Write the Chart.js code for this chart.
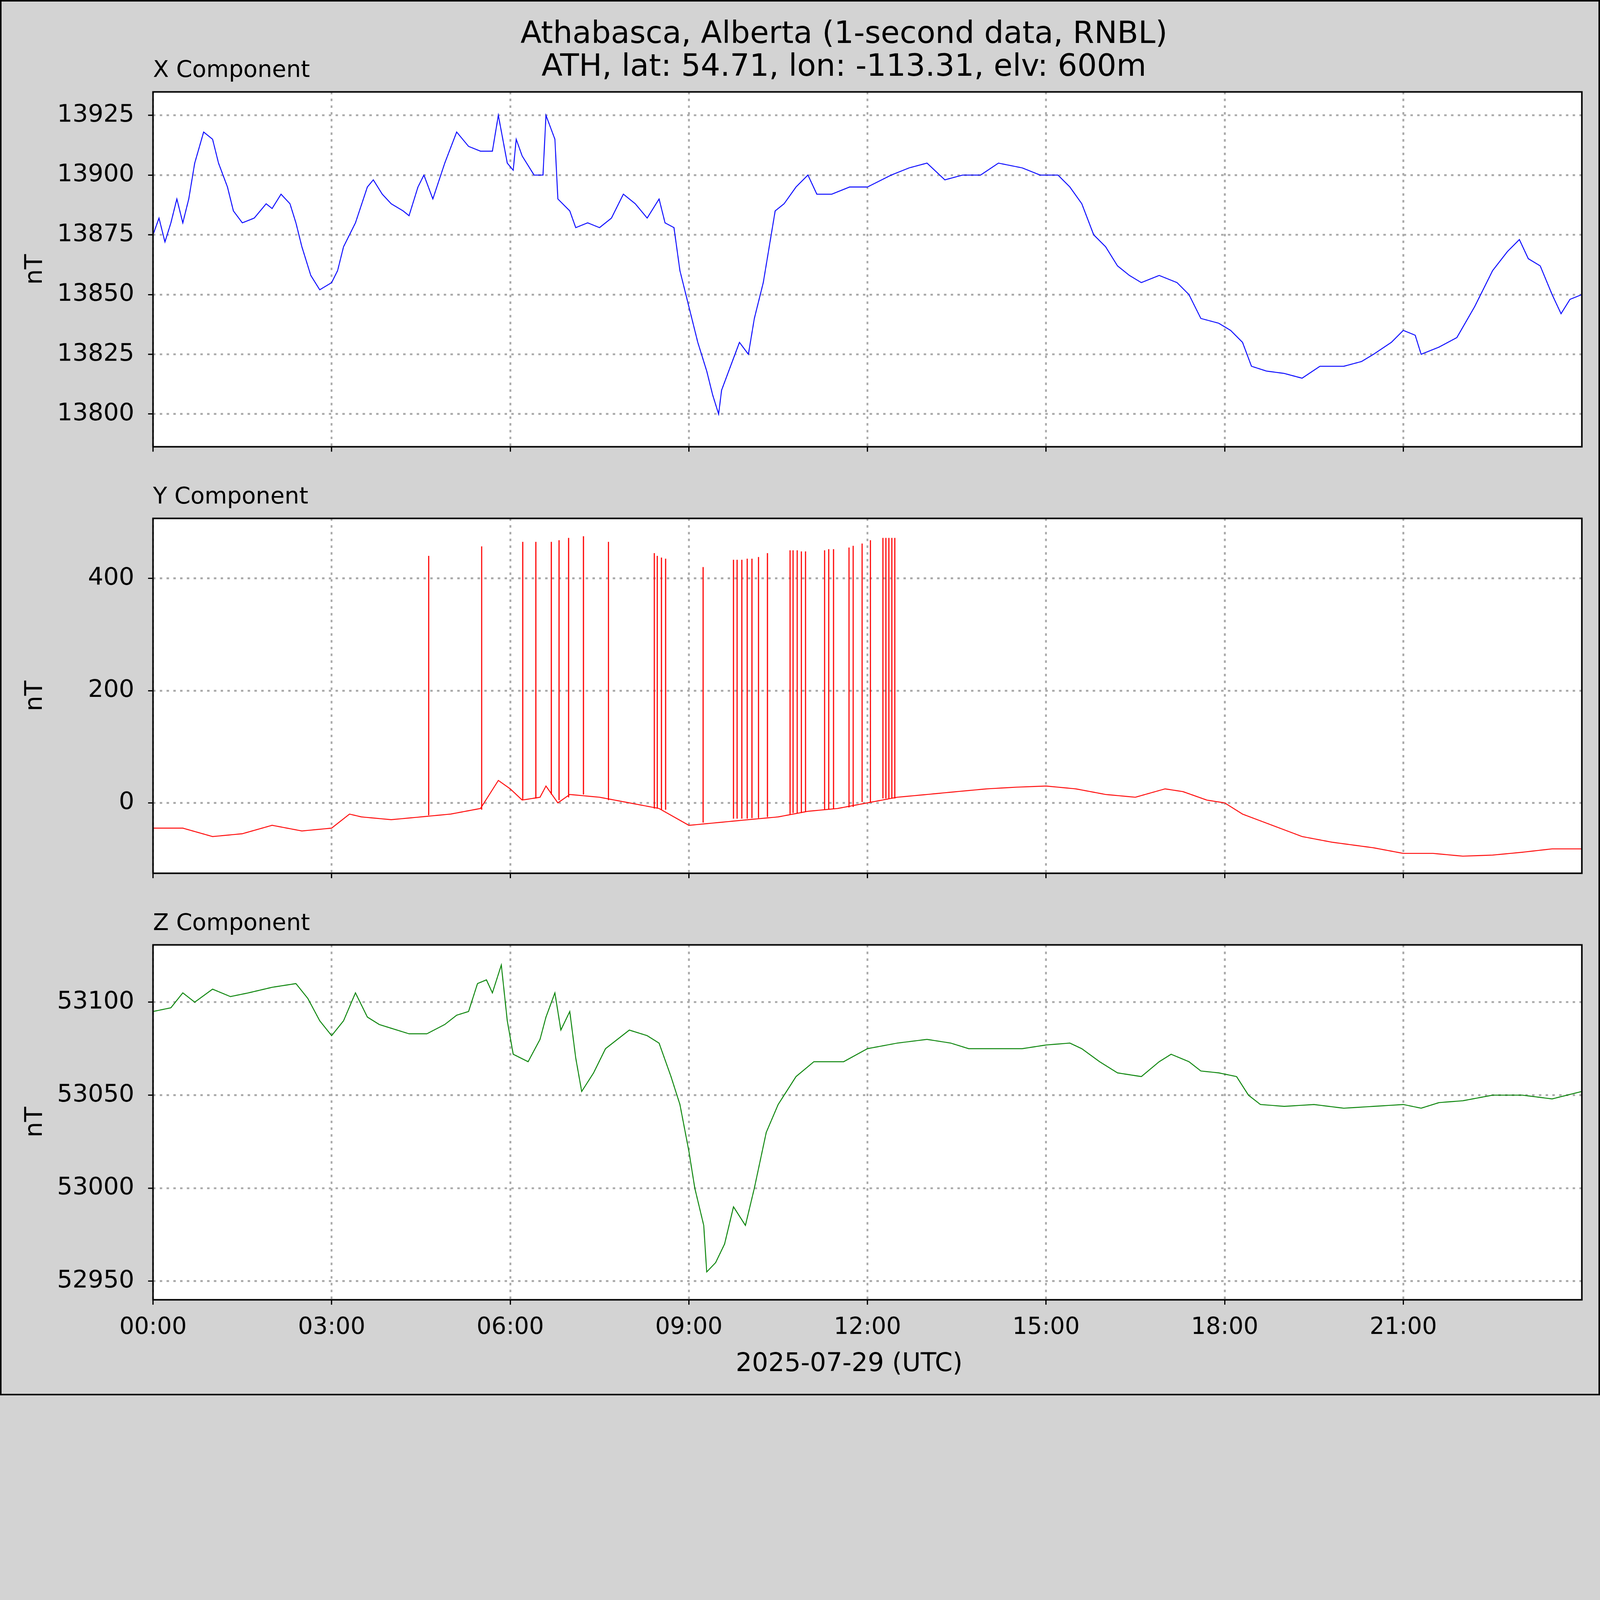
<!DOCTYPE html>
<html>
<head>
<meta charset="utf-8">
<script src="https://cdn.jsdelivr.net/npm/chart.js@4/dist/chart.umd.min.js"></script>
<style>
  html, body { margin: 0; padding: 0; overflow: hidden; background: #d3d3d3; }
  #page { width: 5207px; height: 4541px; background: #d3d3d3; position: absolute; left: 0; top: 0;
          transform-origin: 0 0; font-family: "DejaVu Sans", sans-serif; color: #000; }
  #frame { position: absolute; left: 0; top: 0; width: 5197px; height: 4531px; border: 5px solid #000; }
  canvas { position: absolute; left: 0; }
  .txt { position: absolute; white-space: nowrap; line-height: 1.16; }
  .title { left: 143px; width: 5207px; text-align: center; font-size: 100px; }
  .sub { left: 498px; font-size: 75px; }
  .ylab { left: 110px; font-size: 80px; transform: translate(-50%, -50%) rotate(-90deg); }
</style>
</head>
<body>
<div id="page">
<div id="frame"></div>
<div class="txt title" style="top:48px">Athabasca, Alberta (1-second data, RNBL)</div>
<div class="txt title" style="top:155px">ATH, lat: 54.71, lon: -113.31, elv: 600m</div>
<div class="txt sub" style="top:182px">X Component</div>
<div class="txt sub" style="top:1570px">Y Component</div>
<div class="txt sub" style="top:2958px">Z Component</div>
<div class="txt ylab" style="top:877px">nT</div>
<div class="txt ylab" style="top:2265px">nT</div>
<div class="txt ylab" style="top:3652px">nT</div>
<div class="txt" style="left:160px;width:5207px;top:4386px;text-align:center;font-size:83px">2025-07-29 (UTC)</div>
<canvas id="cx"></canvas>
<canvas id="cy"></canvas>
<canvas id="cz"></canvas>
</div>
<script>
// hours since 00:00 UTC
const xTimes = [0,0.1,0.2,0.3,0.4,0.5,0.6,0.7,0.85,1.0,1.1,1.25,1.35,1.5,1.7,1.9,2.0,2.15,2.3,2.4,2.5,2.65,2.8,3.0,3.1,3.2,3.4,3.6,3.7,3.85,4.0,4.2,4.3,4.45,4.55,4.7,4.9,5.1,5.3,5.5,5.7,5.8,5.95,6.05,6.1,6.2,6.4,6.55,6.6,6.75,6.8,7.0,7.1,7.3,7.5,7.7,7.9,8.1,8.3,8.5,8.6,8.75,8.85,8.95,9.05,9.15,9.3,9.4,9.5,9.55,9.7,9.85,10.0,10.1,10.25,10.35,10.45,10.6,10.8,11.0,11.15,11.4,11.7,12.0,12.4,12.7,13.0,13.3,13.6,13.9,14.2,14.6,14.9,15.2,15.4,15.6,15.8,16.0,16.2,16.4,16.6,16.9,17.2,17.4,17.6,17.9,18.1,18.3,18.45,18.7,19.0,19.3,19.6,20.0,20.3,20.5,20.8,21.0,21.2,21.3,21.6,21.9,22.2,22.5,22.75,22.95,23.1,23.3,23.5,23.65,23.8,24.0];
const xValues = [13875,13882,13872,13880,13890,13880,13890,13905,13918,13915,13905,13895,13885,13880,13882,13888,13886,13892,13888,13880,13870,13858,13852,13855,13860,13870,13880,13895,13898,13892,13888,13885,13883,13895,13900,13890,13905,13918,13912,13910,13910,13925,13905,13902,13915,13908,13900,13900,13925,13915,13890,13885,13878,13880,13878,13882,13892,13888,13882,13890,13880,13878,13860,13850,13840,13830,13818,13808,13800,13810,13820,13830,13825,13840,13855,13870,13885,13888,13895,13900,13892,13892,13895,13895,13900,13903,13905,13898,13900,13900,13905,13903,13900,13900,13895,13888,13875,13870,13862,13858,13855,13858,13855,13850,13840,13838,13835,13830,13820,13818,13817,13815,13820,13820,13822,13825,13830,13835,13833,13825,13828,13832,13845,13860,13868,13873,13865,13862,13850,13842,13848,13850];

const yTimes = [0,0.5,1.0,1.5,2.0,2.5,3.0,3.3,3.5,4.0,4.5,5.0,5.5,5.8,6.0,6.2,6.5,6.6,6.8,7.0,7.5,8.0,8.5,9.0,9.5,10.0,10.5,11.0,11.5,12.0,12.5,13.0,13.5,14.0,14.5,15.0,15.5,16.0,16.5,17.0,17.3,17.7,18.0,18.3,18.8,19.3,19.8,20.5,21.0,21.5,22.0,22.5,23.0,23.5,24.0];
const yValues = [-45,-45,-60,-55,-40,-50,-45,-20,-25,-30,-25,-20,-10,40,25,5,10,30,0,15,10,0,-10,-40,-35,-30,-25,-15,-10,0,10,15,20,25,28,30,25,15,10,25,20,5,0,-20,-40,-60,-70,-80,-90,-90,-95,-93,-88,-82,-82];
// spikes in Y (data glitches)
const spikeTimes = [4.63,5.52,6.21,6.43,6.69,6.82,6.98,7.23,7.65,8.42,8.47,8.54,8.61,9.24,9.75,9.81,9.89,9.98,10.06,10.17,10.32,10.70,10.75,10.82,10.89,10.96,11.28,11.35,11.43,11.69,11.76,11.91,12.05,12.26,12.31,12.36,12.41,12.46];
const spikePeaks = [440,457,465,465,465,468,472,475,465,445,440,437,435,420,433,433,433,435,435,438,445,450,450,450,448,448,450,452,452,455,458,462,468,472,472,472,472,472];
const spikeBase = [-22,-12,5,8,15,5,10,15,5,-10,-10,-12,-12,-35,-28,-28,-28,-28,-27,-27,-25,-20,-18,-18,-18,-16,-12,-12,-10,-8,-7,0,0,8,8,8,8,8];

const zTimes = [0,0.3,0.5,0.7,1.0,1.3,1.6,2.0,2.4,2.6,2.8,3.0,3.2,3.4,3.6,3.8,4.0,4.3,4.6,4.9,5.1,5.3,5.45,5.6,5.7,5.85,5.95,6.05,6.3,6.5,6.6,6.75,6.85,7.0,7.1,7.2,7.4,7.6,7.8,8.0,8.3,8.5,8.7,8.85,9.0,9.1,9.25,9.3,9.45,9.6,9.75,9.95,10.1,10.3,10.5,10.8,11.1,11.6,12.0,12.5,13.0,13.4,13.7,14.2,14.6,15.0,15.4,15.6,15.9,16.2,16.6,16.9,17.1,17.4,17.6,17.9,18.2,18.4,18.6,19.0,19.5,20.0,20.5,21.0,21.3,21.6,22.0,22.5,23.0,23.5,24.0];
const zValues = [53095,53097,53105,53100,53107,53103,53105,53108,53110,53102,53090,53082,53090,53105,53092,53088,53086,53083,53083,53088,53093,53095,53110,53112,53105,53120,53090,53072,53068,53080,53092,53105,53085,53095,53070,53052,53062,53075,53080,53085,53082,53078,53060,53045,53020,53000,52980,52955,52960,52970,52990,52980,53000,53030,53045,53060,53068,53068,53075,53078,53080,53078,53075,53075,53075,53077,53078,53075,53068,53062,53060,53068,53072,53068,53063,53062,53060,53050,53045,53044,53045,53043,53044,53045,53043,53046,53047,53050,53050,53048,53052];

const hourTicks = [0,3,6,9,12,15,18,21];
const xTickVals = [13800,13825,13850,13875,13900,13925];
const yTickVals = [0,200,400];
const zTickVals = [52950,53000,53050,53100];

const page = document.getElementById('page');
const sc = Math.min(window.innerWidth / 5207, window.innerHeight / 4541);
page.style.transform = 'scale(' + sc + ')';

const pts = (t, v) => t.map((h, i) => ({x: h, y: v[i]}));

const frame = {
  id: 'frame',
  beforeDraw(c) {
    const a = c.chartArea, g = c.ctx;
    g.save(); g.fillStyle = '#fff'; g.fillRect(a.left, a.top, a.right - a.left, a.bottom - a.top); g.restore();
  },
  afterDraw(c) {
    const a = c.chartArea, g = c.ctx;
    g.save(); g.strokeStyle = '#000'; g.lineWidth = 5;
    g.strokeRect(a.left, a.top, a.right - a.left, a.bottom - a.top); g.restore();
  }
};

function noPad(s) {
  s.paddingTop = 0; s.paddingBottom = 0; s.paddingLeft = 0; s.paddingRight = 0;
}

function makePanel(id, top, datasets, ymin, ymax, yticks, showX) {
  const cv = document.getElementById(id);
  const H = 1155 + 20 + 200;
  cv.style.width = '5207px'; cv.style.height = H + 'px';
  cv.width = 5207; cv.height = H;
  cv.style.top = (top - 20) + 'px';
  const grid = {
    color: '#aaaaaa', lineWidth: 6, offset: false,
    drawTicks: true, tickLength: 16, tickColor: '#000', tickWidth: 4, tickBorderDash: []
  };
  const border = { display: false, dash: [8, 14] };
  new Chart(cv, {
    data: { datasets: datasets },
    plugins: [frame],
    options: {
      responsive: false, animation: false, devicePixelRatio: 1,
      layout: { padding: { top: 20, right: 59, left: 0, bottom: 0 } },
      plugins: { legend: { display: false }, tooltip: { enabled: false } },
      elements: { point: { radius: 0 } },
      scales: {
        x: {
          type: 'linear', min: 0, max: 24, offset: false,
          afterFit: s => { s.height = 200; noPad(s); },
          afterBuildTicks: s => { s.ticks = hourTicks.map(v => ({value: v})); },
          grid: grid, border: border,
          ticks: {
            display: showX, color: '#000', padding: 30, maxRotation: 0,
            font: { family: 'DejaVu Sans', size: 76 },
            callback: v => String(v).padStart(2, '0') + ':00'
          }
        },
        y: {
          type: 'linear', min: ymin, max: ymax,
          afterFit: s => { s.width = 498; noPad(s); },
          afterBuildTicks: s => { s.ticks = yticks.map(v => ({value: v})); },
          grid: grid, border: border,
          ticks: { color: '#000', padding: 45, font: { family: 'DejaVu Sans', size: 79 },
                   callback: v => String(v) }
        }
      }
    }
  });
}

makePanel('cx', 299, [
  { type: 'line', data: pts(xTimes, xValues), borderColor: '#0000ff', borderWidth: 3, tension: 0 }
], 13786.3, 13934.8, xTickVals, false);

makePanel('cy', 1687, [
  { type: 'line', data: pts(yTimes, yValues), borderColor: '#ff0000', borderWidth: 3, tension: 0 },
  { type: 'bar', data: spikeTimes.map((h, i) => ({x: h, y: [spikeBase[i], spikePeaks[i]]})),
    backgroundColor: '#ff0000', barThickness: 3 }
], -125.5, 507, yTickVals, false);

makePanel('cz', 3075, [
  { type: 'line', data: pts(zTimes, zValues), borderColor: '#008000', borderWidth: 3, tension: 0 }
], 52940, 53130.8, zTickVals, true);
</script>
</body>
</html>
